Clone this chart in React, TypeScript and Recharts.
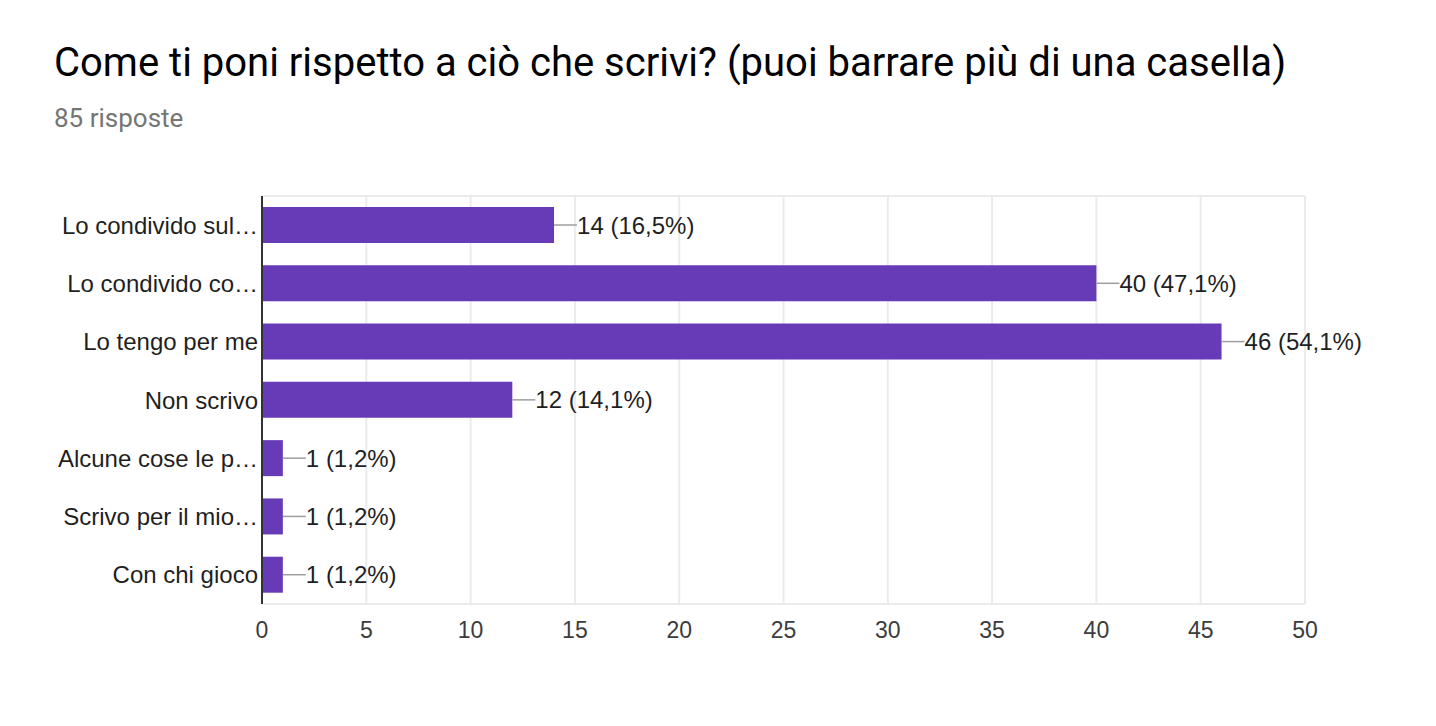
import React from "react";
import { BarChart, Bar, XAxis, YAxis, CartesianGrid, LabelList } from "recharts";

const categories = [
  "Lo condivido sul…",
  "Lo condivido co…",
  "Lo tengo per me",
  "Non scrivo",
  "Alcune cose le p…",
  "Scrivo per il mio…",
  "Con chi gioco",
];
const counts = [14, 40, 46, 12, 1, 1, 1];
const percents = ["16,5%", "47,1%", "54,1%", "14,1%", "1,2%", "1,2%", "1,2%"];
const xTicks = [0, 5, 10, 15, 20, 25, 30, 35, 40, 45, 50];

const data = categories.map((name, i) => ({
  name,
  value: counts[i],
  label: `${counts[i]} (${percents[i]})`,
}));

const LABEL_FONT = "'Liberation Sans', Arial, Helvetica, sans-serif";

const renderLabel = (props: any) => {
  const { x, y, width, height, index } = props;
  const xe = Number(x) + Number(width);
  const cy = Number(y) + Number(height) / 2;
  return (
    <g>
      <line x1={xe} y1={cy} x2={xe + 23} y2={cy} stroke="#9e9e9e" strokeWidth={1.5} />
      <text
        x={xe + 23}
        y={cy}
        dy="0.36em"
        fill="#1f1f1f"
        fontSize={24}
        fontFamily={LABEL_FONT}
      >
        {data[index].label}
      </text>
    </g>
  );
};

export default function App() {
  return (
    <div
      style={{
        position: "absolute",
        left: 0,
        top: 0,
        width: 1436,
        height: 726,
        background: "#fff",
      }}
    >
      <div
        style={{
          position: "absolute",
          left: 54,
          top: 43,
          fontFamily: "Roboto, sans-serif",
          fontSize: 40,
          lineHeight: "40px",
          color: "#000",
          whiteSpace: "nowrap",
        }}
      >
        Come ti poni rispetto a ciò che scrivi? (puoi barrare più di una casella)
      </div>
      <div
        style={{
          position: "absolute",
          left: 54,
          top: 105,
          fontFamily: "Roboto, sans-serif",
          fontSize: 26,
          lineHeight: "26px",
          color: "#757575",
          whiteSpace: "nowrap",
        }}
      >
        85 risposte
      </div>
      <div style={{ position: "absolute", left: 0, top: 0 }}>
        <BarChart
          width={1436}
          height={726}
          data={data}
          layout="vertical"
          margin={{ top: 196, right: 131, bottom: 82, left: 0 }}
        >
          <CartesianGrid
            stroke="#ebebeb"
            strokeWidth={2}
            vertical={true}
            horizontal={true}
            horizontalCoordinatesGenerator={({ offset }: any) => [
              offset.top,
              offset.top + offset.height,
            ]}
          />
          <XAxis
            type="number"
            domain={[0, 50]}
            ticks={xTicks}
            height={40}
            axisLine={false}
            tickLine={false}
            tickSize={6}
            tickMargin={12}
            tick={{ fill: "#3c3c3c", fontSize: 23, fontFamily: LABEL_FONT }}
            interval={0}
          />
          <YAxis
            type="category"
            dataKey="name"
            width={262}
            axisLine={{ stroke: "#333", strokeWidth: 2 }}
            tickLine={false}
            tickSize={0}
            tickMargin={4}
            interval={0}
            tick={{ fill: "#1f1f1f", fontSize: 24, fontFamily: LABEL_FONT }}
          />
          <Bar dataKey="value" fill="#673ab7" barSize={36} isAnimationActive={false}>
            <LabelList dataKey="value" content={renderLabel} />
          </Bar>
        </BarChart>
      </div>
    </div>
  );
}
